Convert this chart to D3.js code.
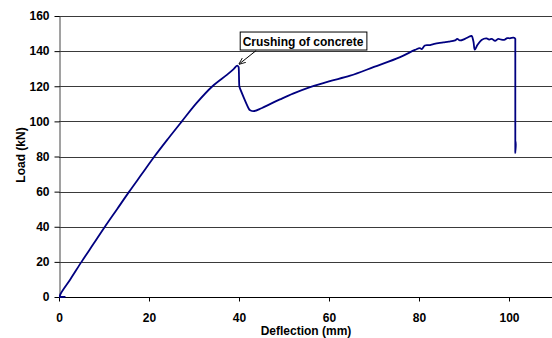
<!DOCTYPE html>
<html>
<head>
<meta charset="utf-8">
<script src="https://cdn.jsdelivr.net/npm/d3@7"></script>
<style>
  body { margin: 0; background: #fff; }
  text { font-family: "Liberation Sans", Arial, sans-serif; font-weight: bold; }
</style>
</head>
<body>
<div id="chart"></div>
<script>
// Load-deflection curve
const deflection = [0, 1.3, 0.2, 0.4, 2.5, 5.0, 7.6, 10.2, 12.9, 15.6, 18.4, 21.2, 24.2, 27.3,
  30.6, 34.1, 37.3, 38.8, 39.6,
  39.9, 39.95, 40.07, 40.12, 42.3, 42.45, 43.2, 45, 47, 49.1, 52, 55.8, 60, 64.7, 70, 75.8,
  79.1, 80.2, 80.6, 81.3, 82.2, 83.2, 84.3, 85.4, 86.6, 88, 88.5, 89.1, 90.2, 91.3, 91.7,
  92.1, 92.4, 93, 93.9, 95, 95.6, 96.2, 96.9, 97.6, 98.3, 99.1, 99.6, 100.2, 101, 101.4,
  101.4, 101.4, 101.4, 101.4, 101.5, 101.4];
const load = [0, 0, 0.5, 2, 10, 20, 30, 40, 50, 60, 70, 80, 90, 100,
  110.5, 120, 126.5, 129.8, 131.8,
  131, 130, 120, 119.5, 106.7, 106.4, 105.8, 107.5, 110, 112.5, 115.8, 119.5, 122.8, 126, 131, 136.6,
  140.7, 141.7, 141.2, 143.2, 143.4, 144, 144.6, 145, 145.4, 146.1, 147, 146.1, 147, 148.4, 148.7,
  145.5, 140.8, 143.6, 146.4, 147.3, 146.6, 147, 145.8, 147, 146.5, 146.6, 147.4, 147.3, 147.7, 147,
  146.5, 145, 84, 82, 88.5, 88];

const xTicks = [0, 20, 40, 60, 80, 100];
const yTicks = [0, 20, 40, 60, 80, 100, 120, 140, 160];
const annotation = "Crushing of concrete";
const peakIndex = 18;

const W = 552, H = 338;
const margin = {top: 16, left: 59, bottom: 41};

const svg = d3.select("#chart")
    .append("svg")
    .attr("width", W)
    .attr("height", H);

const x = d3.scaleLinear().domain([0, 110]).range([margin.left, margin.left + 495]);
const y = d3.scaleLinear().domain([0, 160]).range([H - margin.bottom, margin.top]);

// Gridlines
svg.append("g")
    .selectAll("line")
    .data(yTicks.filter(d => d > 0))
    .enter().append("line")
    .attr("x1", x(0))
    .attr("x2", W)
    .attr("y1", d => Math.round(y(d)) + 0.5)
    .attr("y2", d => Math.round(y(d)) + 0.5)
    .style("stroke", "#3a3a3a")
    .style("stroke-width", 1);

// Axes
const xAxis = d3.axisBottom(x).tickValues(xTicks).tickSize(4).tickPadding(12).tickSizeOuter(0);
const yAxis = d3.axisLeft(y).tickValues(yTicks).tickSize(5).tickPadding(5).tickSizeOuter(0);

svg.append("g")
    .attr("transform", "translate(0," + (Math.round(y(0)) + 0.5) + ")")
    .call(xAxis)
    .call(g => g.select(".domain").attr("d", "M" + x(0) + ",0H" + W).style("stroke", "#000"))
    .call(g => g.selectAll("text").style("font-size", "12px").style("fill", "#000"));

svg.append("g")
    .attr("transform", "translate(" + (Math.round(x(0)) + 0.5) + ",0)")
    .call(yAxis)
    .call(g => g.select(".domain").style("stroke", "#444"))
    .call(g => g.selectAll("text").style("font-size", "12px").style("fill", "#000"));

// Curve
const pts = deflection.map((d, i) => [d, load[i]]);
svg.append("path")
    .datum(pts)
    .attr("d", d3.line().curve(d3.curveCatmullRom.alpha(0.5)).x(d => x(d[0])).y(d => y(d[1])))
    .style("fill", "none")
    .style("stroke", "#000080")
    .style("stroke-width", 1.8)
    .style("stroke-linejoin", "round");

// Axis titles
svg.append("text")
    .attr("x", 306)
    .attr("y", 335)
    .attr("text-anchor", "middle")
    .style("font-size", "12px")
    .text("Deflection (mm)");

svg.append("text")
    .attr("transform", "translate(25,155) rotate(-90)")
    .attr("text-anchor", "middle")
    .style("font-size", "12px")
    .text("Load (kN)");

// Annotation
svg.append("defs").append("marker")
    .attr("id", "arrow")
    .attr("viewBox", "0 0 10 10")
    .attr("refX", 9).attr("refY", 5)
    .attr("markerWidth", 7).attr("markerHeight", 7)
    .attr("orient", "auto")
    .append("path")
    .attr("d", "M0,1L10,5L0,9")
    .style("fill", "none")
    .style("stroke", "#000")
    .style("stroke-width", 1.2);

const px = x(deflection[peakIndex]), py = y(load[peakIndex]);
svg.append("line")
    .attr("x1", px + 19).attr("y1", py - 15)
    .attr("x2", px + 2).attr("y2", py - 1.5)
    .style("stroke", "#000")
    .attr("marker-end", "url(#arrow)");

const label = svg.append("g").attr("transform", "translate(" + (px + 2.5) + "," + (py - 34) + ")");
const box = label.append("rect")
    .attr("x", 0.5).attr("y", 0.5)
    .attr("height", 18)
    .style("fill", "#fff")
    .style("stroke", "#000");
const t = label.append("text")
    .attr("x", 3).attr("y", 14)
    .style("font-size", "12px")
    .text(annotation);
box.attr("width", t.node().getComputedTextLength() + 6);
</script>
</body>
</html>
